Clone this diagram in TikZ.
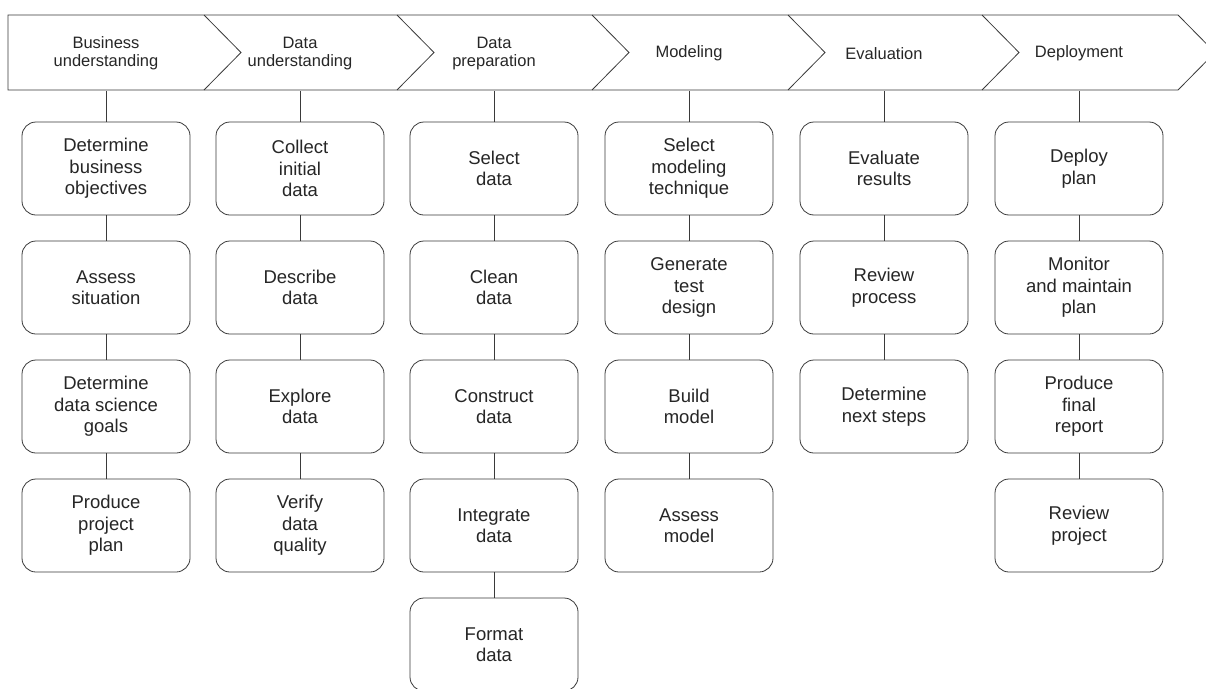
\documentclass[tikz,border=0pt]{standalone}
\usepackage{fontspec}
\setmainfont{Liberation Sans}
\usetikzlibrary{positioning}
\definecolor{Ink}{HTML}{3A3A3A}

\begin{document}
\begin{tikzpicture}[x=1pt,y=-1pt,node distance=25.2pt,
    every node/.style={align=center,text=black!85},
    phase/.style={minimum width=150pt,minimum height=75pt,font=\fontsize{16.5}{18}\selectfont},
    task/.style={draw=Ink,line width=.8pt,rounded corners=14pt,fill=white,minimum width=168pt,minimum height=93pt,inner sep=2pt,font=\fontsize{18.5}{21.5}\selectfont},
    link/.style={draw=Ink,line width=.8pt}]
        \useasboundingbox (0,0) rectangle (1206,688);
        % phase bar
        \draw[link] (8,15) -- (1178,15) -- (1215,52.5) -- (1178,90) -- (8,90) -- cycle;
        \foreach \n in {204,397,592,788,982}
          \draw[link] (\n,15) -- (\n+37,52.5) -- (\n,90);
        \node[phase] (ph1) at (106,53.5) {Business\\understanding};
        \node[phase] (ph2) at (300,53.5) {Data\\understanding};
        \node[phase] (ph3) at (494,53.5) {Data\\preparation};
        \node[phase] (ph4) at (689,53.5) {Modeling};
        \node[phase] (ph5) at (884,53.5) {Evaluation};
        \node[phase] (ph6) at (1079,53.5) {Deployment};
        % business understanding
        \node[task] (bu1) at (106,168.5) {Determine\\business\\objectives};
        \node[task,below=of bu1] (bu2) {Assess\\situation};
        \node[task,below=of bu2] (bu3) {Determine\\data science\\goals};
        \node[task,below=of bu3] (bu4) {Produce\\project\\plan};
        % data understanding
        \node[task] (du1) at (300,168.5) {Collect\\initial\\data};
        \node[task,below=of du1] (du2) {Describe\\data};
        \node[task,below=of du2] (du3) {Explore\\data};
        \node[task,below=of du3] (du4) {Verify\\data\\quality};
        % data preparation
        \node[task] (dp1) at (494,168.5) {Select\\data};
        \node[task,below=of dp1] (dp2) {Clean\\data};
        \node[task,below=of dp2] (dp3) {Construct\\data};
        \node[task,below=of dp3] (dp4) {Integrate\\data};
        \node[task,below=of dp4] (dp5) {Format\\data};
        % modeling
        \node[task] (md1) at (689,168.5) {Select\\modeling\\technique};
        \node[task,below=of md1] (md2) {Generate\\test\\design};
        \node[task,below=of md2] (md3) {Build\\model};
        \node[task,below=of md3] (md4) {Assess\\model};
        % evaluation
        \node[task] (ev1) at (884,168.5) {Evaluate\\results};
        \node[task,below=of ev1] (ev2) {Review\\process};
        \node[task,below=of ev2] (ev3) {Determine\\next steps};
        % deployment
        \node[task] (de1) at (1079,168.5) {Deploy\\plan};
        \node[task,below=of de1] (de2) {Monitor\\and maintain\\plan};
        \node[task,below=of de2] (de3) {Produce\\final\\report};
        \node[task,below=of de3] (de4) {Review\\project};
        % links
        \draw[link] (ph1.south) -- (bu1) -- (bu2) -- (bu3) -- (bu4);
        \draw[link] (ph2.south) -- (du1) -- (du2) -- (du3) -- (du4);
        \draw[link] (ph3.south) -- (dp1) -- (dp2) -- (dp3) -- (dp4) -- (dp5);
        \draw[link] (ph4.south) -- (md1) -- (md2) -- (md3) -- (md4);
        \draw[link] (ph5.south) -- (ev1) -- (ev2) -- (ev3);
        \draw[link] (ph6.south) -- (de1) -- (de2) -- (de3) -- (de4);
      \end{tikzpicture}
\end{document}
